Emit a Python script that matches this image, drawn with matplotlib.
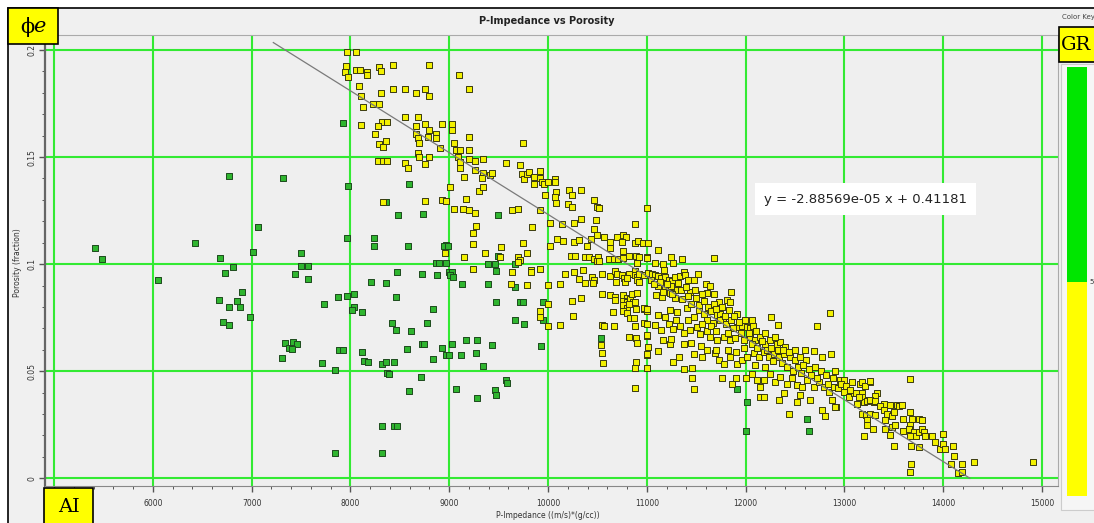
import numpy as np
import matplotlib.pyplot as plt
from matplotlib.patches import Rectangle
from matplotlib.ticker import MultipleLocator, FixedFormatter, FixedLocator

# crossplot samples: (P-impedance, effective porosity), split by the GR cutoff
high_gr_points = [
    (7922, 0.1657), (6768, 0.1410), (7315, 0.1400), (7979, 0.1366), (7068, 0.1174), (7962, 0.1123),
    (5412, 0.1076), (5483, 0.1025), (6427, 0.1101), (6680, 0.1028), (7014, 0.1059), (7500, 0.1053),
    (7500, 0.0992), (7568, 0.0992), (6815, 0.0986), (6734, 0.0959), (7439, 0.0956), (7568, 0.0930),
    (6053, 0.0927), (6899, 0.0871), (6673, 0.0833), (6849, 0.0826), (6768, 0.0801), (6883, 0.0801),
    (6707, 0.0732), (6768, 0.0716), (6987, 0.0751), (7736, 0.0813), (7874, 0.0846), (7962, 0.0852),
    (7335, 0.0631), (7416, 0.0637), (7456, 0.0626), (7382, 0.0609), (7412, 0.0606), (7305, 0.0564),
    (7709, 0.0539), (7844, 0.0505), (7888, 0.0601), (7928, 0.0598), (7844, 0.0118),
    (8593, 0.1375), (8357, 0.1290), (8485, 0.1230), (8732, 0.1234), (9497, 0.1230), (8242, 0.1123),
    (8242, 0.1083), (8586, 0.1083), (8968, 0.1090), (8951, 0.1083), (8991, 0.1083), (8866, 0.1006),
    (8900, 0.1006), (8968, 0.1006), (9393, 0.1000), (9460, 0.1000), (9666, 0.1000), (9494, 0.1037),
    (8472, 0.0963), (8721, 0.0956), (8873, 0.0947), (9000, 0.0963), (9030, 0.0963), (9010, 0.0947),
    (9035, 0.0938), (8205, 0.0917), (8364, 0.0911), (9126, 0.0908), (9393, 0.0908), (9477, 0.0966),
    (9666, 0.0891), (8036, 0.0861), (8458, 0.0846), (8033, 0.0801), (8016, 0.0788), (8117, 0.0777),
    (8833, 0.0791), (9474, 0.0822), (9717, 0.0822), (9744, 0.0822), (9946, 0.0822), (8418, 0.0724),
    (8458, 0.0693), (8617, 0.0690), (8772, 0.0724), (9666, 0.0737), (9754, 0.0721), (9946, 0.0737),
    (8117, 0.0589), (8141, 0.0550), (8175, 0.0541), (8320, 0.0534), (8364, 0.0544), (8445, 0.0544),
    (8573, 0.0604), (8721, 0.0626), (8745, 0.0626), (8839, 0.0556), (8924, 0.0607), (8968, 0.0578),
    (9001, 0.0578), (9025, 0.0626), (9119, 0.0575), (9167, 0.0645), (9285, 0.0645), (9274, 0.0583),
    (9433, 0.0623), (9339, 0.0525), (9932, 0.0620), (8374, 0.0494), (8391, 0.0485), (8718, 0.0475),
    (8590, 0.0408), (9072, 0.0417), (9281, 0.0377), (9467, 0.0414), (9474, 0.0388), (9575, 0.0461),
    (9588, 0.0444), (8323, 0.0244), (8441, 0.0244), (8468, 0.0244), (8323, 0.0118), (10536, 0.0653),
    (10999, 0.0515), (11913, 0.0417), (12014, 0.0358), (12625, 0.0276), (12000, 0.0222), (12640, 0.0222),
]

low_gr_points = [
    (7963, 0.1989), (8057, 0.1989), (7956, 0.1924), (7949, 0.1895), (7973, 0.1875),
    (8057, 0.1905), (8098, 0.1906), (8166, 0.1895), (8166, 0.1884), (8287, 0.1922), (8311, 0.1900),
    (8430, 0.1928), (8795, 0.1928), (9099, 0.1884), (8085, 0.1833), (8105, 0.1785), (8311, 0.1797),
    (8430, 0.1819), (8548, 0.1819), (8659, 0.1797), (8758, 0.1819), (8795, 0.1785), (9201, 0.1819),
    (8227, 0.1750), (8287, 0.1747), (8132, 0.1735), (8548, 0.1689), (8680, 0.1689),
    (8321, 0.1666), (8375, 0.1666), (8277, 0.1647), (8105, 0.1650),
    (8659, 0.1646), (8758, 0.1655), (8795, 0.1627), (8930, 0.1655), (9031, 0.1655), (9031, 0.1627),
    (8247, 0.1607), (8659, 0.1607), (8680, 0.1588), (8690, 0.1564), (8785, 0.1593), (8862, 0.1607),
    (8869, 0.1588), (8365, 0.1575), (8287, 0.1563), (8328, 0.1549), (8903, 0.1544), (9045, 0.1564),
    (9201, 0.1594), (9745, 0.1566), (9072, 0.1532), (9113, 0.1532), (9201, 0.1532), (9086, 0.1500),
    (9113, 0.1479), (8683, 0.1518), (8690, 0.1502), (8795, 0.1502),
    (8281, 0.1483), (8328, 0.1483), (8375, 0.1483), (8555, 0.1474), (8582, 0.1450), (8758, 0.1466),
    (9201, 0.1491), (9258, 0.1480), (9343, 0.1490), (9113, 0.1449), (9258, 0.1441), (9147, 0.1405),
    (9343, 0.1424), (9336, 0.1404), (9417, 0.1416), (9431, 0.1426), (9579, 0.1474),
    (9718, 0.1463), (9732, 0.1422), (9759, 0.1397), (9789, 0.1421), (9803, 0.1432),
    (9918, 0.1436), (9860, 0.1408), (9918, 0.1400), (9942, 0.1385), (9959, 0.1372), (9860, 0.1374),
    (10005, 0.1385), (10069, 0.1397), (10069, 0.1383),
    (9011, 0.1360), (9302, 0.1343), (9343, 0.1362), (9167, 0.1305), (8754, 0.1293), (8328, 0.1290),
    (8930, 0.1298), (8964, 0.1293), (9965, 0.1323), (10080, 0.1338), (10069, 0.1312), (10080, 0.1284),
    (10215, 0.1346), (10330, 0.1347), (10239, 0.1323), (10202, 0.1282), (10246, 0.1268),
    (10469, 0.1300), (10493, 0.1265), (10513, 0.1262),
    (9045, 0.1259), (9140, 0.1259), (9201, 0.1252), (9262, 0.1240), (9637, 0.1255), (9701, 0.1259),
    (9918, 0.1251), (11000, 0.1262),
    (9268, 0.1179), (9241, 0.1145), (9241, 0.1095), (9840, 0.1173), (10019, 0.1193), (10137, 0.1188),
    (10263, 0.1193), (10330, 0.1209), (10489, 0.1207), (10469, 0.1166), (10493, 0.1138), (10881, 0.1188),
    (9522, 0.1079), (9742, 0.1098), (10019, 0.1085), (10087, 0.1118), (10148, 0.1110), (10263, 0.1104),
    (10310, 0.1112), (10432, 0.1118), (10398, 0.1087), (10570, 0.1126), (10628, 0.1104), (10702, 0.1126),
    (10763, 0.1135), (10790, 0.1126), (10746, 0.1104), (10881, 0.1099), (10908, 0.1110), (10959, 0.1099),
    (10628, 0.1077),
    (8954, 0.1053), (9147, 0.1034), (9363, 0.1053), (9519, 0.1032), (9694, 0.1035), (9715, 0.1020),
    (9694, 0.1010), (9792, 0.1051), (10232, 0.1037), (10269, 0.1037), (10378, 0.1032), (10418, 0.1034),
    (10466, 0.1026), (10510, 0.1034), (10493, 0.1013), (10520, 0.1016), (10621, 0.1023), (10669, 0.1026),
    (10706, 0.1026), (10756, 0.1060), (10756, 0.1031), (10824, 0.1037), (10892, 0.1037), (10919, 0.1035),
    (10898, 0.1006), (10905, 0.1003), (11000, 0.1032),
    (9238, 0.0978), (9637, 0.0965), (9833, 0.0974), (9833, 0.0963), (9918, 0.0979), (10168, 0.0954),
    (10266, 0.0965), (10310, 0.0929), (10357, 0.0971), (10374, 0.0910), (10449, 0.0940), (10466, 0.0928),
    (10452, 0.0910), (10550, 0.0956), (10628, 0.0943), (10682, 0.0970), (10699, 0.0954), (10692, 0.0917),
    (10746, 0.0951), (10766, 0.0935), (10783, 0.0915), (10817, 0.0954), (10803, 0.0935), (10878, 0.0970),
    (10878, 0.0951), (10898, 0.0939), (10905, 0.0928), (10919, 0.0956), (10925, 0.0917), (10973, 0.0948),
    (9623, 0.0907), (9792, 0.0904), (10005, 0.0903), (10117, 0.0907), (10239, 0.0829), (10330, 0.0840),
    (10550, 0.0861), (10628, 0.0856), (10682, 0.0845), (10682, 0.0834), (10763, 0.0857), (10797, 0.0842),
    (10763, 0.0829), (10803, 0.0821), (10830, 0.0839), (10851, 0.0861), (10898, 0.0864), (10864, 0.0823),
    (10756, 0.0808), (10797, 0.0796), (10824, 0.0812), (10892, 0.0790), (10756, 0.0782), (10803, 0.0773),
    (10878, 0.0823), (10973, 0.0792), (11000, 0.0782), (10662, 0.0776),
    (10005, 0.0815), (9918, 0.0780), (9918, 0.0753), (10005, 0.0709), (10117, 0.0717), (10252, 0.0757),
    (10547, 0.0717), (10567, 0.0709), (10669, 0.0712), (10830, 0.0748), (10871, 0.0748), (10881, 0.0709),
    (10973, 0.0726), (11000, 0.0720), (10824, 0.0658), (10892, 0.0653), (10898, 0.0633), (11000, 0.0664),
    (10540, 0.0624), (10547, 0.0585), (10560, 0.0539), (10892, 0.0545), (10878, 0.0514), (11000, 0.0514),
    (11000, 0.0578), (10878, 0.0422),
    (10959, 0.1100), (11017, 0.1097), (11111, 0.1067), (11000, 0.1030), (11247, 0.1034), (11355, 0.1022),
    (11676, 0.1030), (11084, 0.1003), (11169, 0.1000), (11270, 0.1003), (11176, 0.0972),
    (11017, 0.0959), (11051, 0.0953), (11084, 0.0947), (11118, 0.0944), (11142, 0.0933), (11186, 0.0938),
    (11220, 0.0928), (11253, 0.0921), (11287, 0.0938), (11338, 0.0944), (11372, 0.0964), (11389, 0.0949),
    (11422, 0.0925), (11473, 0.0925), (11514, 0.0956), (11118, 0.0897), (11186, 0.0891), (11243, 0.0897),
    (11304, 0.0878), (11095, 0.0855), (11152, 0.0847), (11236, 0.0866), (11287, 0.0840),
    (11355, 0.0835), (11439, 0.0871), (11490, 0.0878), (11595, 0.0907), (11642, 0.0900), (11682, 0.0860),
    (11608, 0.0863), (11851, 0.0869), (11726, 0.0824), (11811, 0.0832), (11845, 0.0821),
    (10973, 0.0793), (11007, 0.0790), (11118, 0.0762), (11186, 0.0754), (11236, 0.0785), (11304, 0.0777),
    (11405, 0.0793), (11473, 0.0751), (11524, 0.0785), (11574, 0.0769), (11608, 0.0738), (11669, 0.0723),
    (11709, 0.0762), (11743, 0.0769), (11770, 0.0744), (11828, 0.0785), (11912, 0.0769),
    (11912, 0.0707), (11963, 0.0710), (12013, 0.0707), (12047, 0.0704), (12064, 0.0741),
    (12257, 0.0752), (12851, 0.0774),
    (11000, 0.0667), (11084, 0.0715), (11142, 0.0692), (11220, 0.0720), (11270, 0.0695),
    (11338, 0.0713), (11372, 0.0679), (11439, 0.0692), (11507, 0.0707), (11540, 0.0673), (11608, 0.0688),
    (11642, 0.0660), (11709, 0.0645), (11777, 0.0660), (11838, 0.0645), (11895, 0.0657),
    (11980, 0.0645), (12047, 0.0660), (12098, 0.0645), (12149, 0.0660), (12199, 0.0629), (12250, 0.0645),
    (12317, 0.0629), (12351, 0.0637), (12402, 0.0614), (12324, 0.0715), (12723, 0.0712),
    (11000, 0.0579), (11017, 0.0614), (11118, 0.0595), (11162, 0.0645), (11236, 0.0629), (11264, 0.0543),
    (11321, 0.0567), (11378, 0.0629), (11372, 0.0512), (11456, 0.0517), (11480, 0.0579), (11557, 0.0567),
    (11608, 0.0598), (11693, 0.0586), (11726, 0.0554), (11777, 0.0536), (11845, 0.0567), (11912, 0.0536),
    (11963, 0.0551), (12013, 0.0567), (12081, 0.0586), (12132, 0.0567), (12182, 0.0590), (12233, 0.0567),
    (12284, 0.0582), (12334, 0.0567), (12392, 0.0579), (12453, 0.0567), (12503, 0.0551), (12554, 0.0567),
    (12605, 0.0598), (12689, 0.0595), (12614, 0.0551), (12774, 0.0567), (12865, 0.0582),
    (11456, 0.0469), (11473, 0.0419), (11760, 0.0469), (11861, 0.0438), (11905, 0.0469), (12000, 0.0469),
    (12064, 0.0489), (12115, 0.0458), (12149, 0.0427), (12189, 0.0458), (12250, 0.0489), (12300, 0.0450),
    (12351, 0.0473), (12419, 0.0442), (12469, 0.0466), (12520, 0.0434),
    (12149, 0.0380), (12182, 0.0380), (12334, 0.0364), (12392, 0.0396), (12436, 0.0302), (12520, 0.0357),
    (12571, 0.0427), (12621, 0.0458), (12689, 0.0427), (12740, 0.0450), (12790, 0.0427), (12841, 0.0403),
    (12892, 0.0427), (12953, 0.0458), (13000, 0.0461), (12554, 0.0388), (12655, 0.0364), (12774, 0.0318),
    (12875, 0.0364), (12919, 0.0333), (13000, 0.0403), (13044, 0.0380), (13094, 0.0396), (13162, 0.0442),
    (13263, 0.0450), (13128, 0.0349), (13196, 0.0367), (13297, 0.0357), (13331, 0.0396), (13398, 0.0349),
    (13466, 0.0341), (13534, 0.0341), (12807, 0.0290), (12909, 0.0333),
    (13178, 0.0450), (13212, 0.0430), (13263, 0.0453), (13313, 0.0385), (13667, 0.0463),
    (13178, 0.0396), (13178, 0.0380), (13195, 0.0357), (13229, 0.0360), (13263, 0.0364), (13313, 0.0360),
    (13178, 0.0302), (13222, 0.0294), (13263, 0.0302), (13313, 0.0294), (13229, 0.0271), (13229, 0.0248),
    (13290, 0.0232), (13202, 0.0199), (13364, 0.0336), (13397, 0.0321), (13431, 0.0302), (13482, 0.0290),
    (13499, 0.0310), (13549, 0.0336), (13583, 0.0343), (13414, 0.0271), (13414, 0.0232), (13482, 0.0240),
    (13516, 0.0248), (13593, 0.0279), (13667, 0.0310), (13684, 0.0279), (13667, 0.0248), (13751, 0.0279),
    (13785, 0.0271), (13593, 0.0221), (13650, 0.0232), (13700, 0.0216), (13727, 0.0196), (13751, 0.0216),
    (13785, 0.0232), (13801, 0.0216), (13818, 0.0196), (13886, 0.0199), (13919, 0.0170),
    (13458, 0.0201), (13505, 0.0149), (13667, 0.0196), (13673, 0.0149), (13751, 0.0146),
    (13963, 0.0136), (13997, 0.0162), (14020, 0.0139), (13993, 0.0206), (14104, 0.0153),
    (14111, 0.0106), (14310, 0.0076), (14195, 0.0069), (14084, 0.0069),
    (13673, 0.0069), (13667, 0.0029), (14152, 0.0023), (14195, 0.0029), (14912, 0.0076),
    # densest part of the trend, 11000-13200
    (11040, 0.0925), (11070, 0.0905), (11130, 0.0915), (11160, 0.0870), (11200, 0.0905), (11260, 0.0860),
    (11320, 0.0910), (11350, 0.0880), (11400, 0.0895), (11420, 0.0850), (11450, 0.0815), (11500, 0.0840),
    (11530, 0.0810), (11560, 0.0860), (11580, 0.0830), (11620, 0.0800), (11650, 0.0780), (11680, 0.0815),
    (11700, 0.0790), (11740, 0.0740), (11760, 0.0800), (11790, 0.0760), (11800, 0.0720), (11850, 0.0740),
    (11870, 0.0700), (11880, 0.0760), (11930, 0.0730), (11950, 0.0680), (11990, 0.0740), (12030, 0.0680),
    (12060, 0.0625), (12080, 0.0710), (12110, 0.0690), (12120, 0.0610), (12170, 0.0640), (12200, 0.0680),
    (12220, 0.0600), (12260, 0.0610), (12280, 0.0550), (12300, 0.0660), (12330, 0.0600), (12370, 0.0540),
    (12380, 0.0600), (12420, 0.0520), (12440, 0.0590), (12480, 0.0500), (12500, 0.0600), (12530, 0.0520),
    (12560, 0.0490), (12580, 0.0530), (12640, 0.0510), (12660, 0.0480), (12700, 0.0520), (12720, 0.0470),
    (12760, 0.0500), (12810, 0.0480), (12830, 0.0440), (12880, 0.0470), (12900, 0.0500), (12940, 0.0420),
    (12970, 0.0440), (13020, 0.0430), (13060, 0.0410), (13080, 0.0450), (13120, 0.0400), (13150, 0.0380),
    (11300, 0.0740), (11420, 0.0740), (11560, 0.0720), (11650, 0.0710), (11250, 0.0650), (11450, 0.0630),
    (11550, 0.0620), (11700, 0.0600), (11820, 0.0600), (11900, 0.0590), (11700, 0.0690), (11820, 0.0680),
    (11980, 0.0610), (12100, 0.0530), (12200, 0.0520),
]

# linear fit shown on the plot
slope = -2.88569e-05
intercept = 0.41181
fit_ai = [7220, 14270]

x_ticks = [5000, 6000, 7000, 8000, 9000, 10000, 11000, 12000, 13000, 14000, 15000]
x_tick_labels = ['', '6000', '7000', '8000', '9000', '10000', '11000', '12000', '13000', '14000', '15000']
y_ticks = [0, 0.05, 0.1, 0.15, 0.2]
y_tick_labels = ['0', '0.05', '0.1', '0.15', '0.2']

W, H = 1094, 523
fig = plt.figure(figsize=(W / 100, H / 100), dpi=100)
fig.patch.set_facecolor('white')


def fx(x):
    return x / W


def fy(y):
    return 1 - y / H


def fig_rect(x0, y0, x1, y1, **kw):
    r = Rectangle((fx(x0), fy(y1)), fx(x1) - fx(x0), fy(y0) - fy(y1),
                  transform=fig.transFigure, **kw)
    fig.patches.append(r)
    return r


# outer panel, kept behind the axes
fig_rect(8, 8, 1200, 600, facecolor='#f0f0f0', edgecolor='black', lw=1.2, zorder=-5)

ax = fig.add_axes([fx(45), fy(486), fx(1058) - fx(45), fy(35) - fy(486)])
ax.set_zorder(1)
ax.set_facecolor('#efefef')
ax.set_xlim(4909, 15162)
ax.set_ylim(-0.0036, 0.207)

ax.xaxis.set_major_locator(FixedLocator(x_ticks))
ax.xaxis.set_major_formatter(FixedFormatter(x_tick_labels))
ax.xaxis.set_minor_locator(MultipleLocator(200))
ax.yaxis.set_major_locator(FixedLocator(y_ticks))
ax.yaxis.set_major_formatter(FixedFormatter(y_tick_labels))
ax.yaxis.set_minor_locator(MultipleLocator(0.01))
ax.tick_params(which='both', direction='out', color='#555555', labelsize=5.5, labelcolor='#333333')
ax.tick_params(which='major', length=4, width=1)
ax.tick_params(which='minor', length=2, width=0.7)
ax.tick_params(axis='y', labelrotation=90, pad=2)
ax.tick_params(axis='x', pad=5)
for lbl in ax.get_yticklabels():
    lbl.set_va('center')
ax.grid(True, which='major', color='#33ea33', lw=1.5)
ax.set_axisbelow(True)

ax.spines['left'].set_color('#666666')
ax.spines['left'].set_linewidth(1.6)
ax.spines['bottom'].set_color('#888888')
ax.spines['top'].set_color('#aaaaaa')
ax.spines['right'].set_color('#aaaaaa')

hi = np.array(high_gr_points)
lo = np.array(low_gr_points)
ax.scatter(hi[:, 0], hi[:, 1], marker='s', s=13, facecolor='#2fb52f', edgecolor='#1d4a1d',
           linewidths=0.7, zorder=4)
ax.scatter(lo[:, 0], lo[:, 1], marker='s', s=13, facecolor='#f2f000', edgecolor='#3a3a10',
           linewidths=0.7, zorder=4)

fit_x = np.array(fit_ai)
ax.plot(fit_x, slope * fit_x + intercept, color='#7a7a7a', lw=0.9, zorder=5)

ax.text(0.810, 0.636, 'y = -2.88569e-05 x + 0.41181', transform=ax.transAxes,
        ha='center', va='center', fontsize=9.5, color='#222222', zorder=6,
        bbox=dict(boxstyle='square,pad=0.7', facecolor='white', edgecolor='none'))

fig.text(fx(547), fy(21), 'P-Impedance vs Porosity', ha='center', va='center',
         fontsize=7, fontweight='bold', color='#222222')
fig.text(fx(548), fy(515), 'P-Impedance ((m/s)*(g/cc))', ha='center', va='center',
         fontsize=5.5, color='#333333')
fig.text(fx(18), fy(263), 'Porosity (fraction)', ha='center', va='center', rotation=90,
         fontsize=5.5, color='#333333')

# colour key
fig.text(fx(1062), fy(17), 'Color Key', ha='left', va='center', fontsize=5, color='#444444')
fig_rect(1061, 64, 1110, 510, facecolor='#f6f6f6', edgecolor='#cccccc', lw=0.8, zorder=1)
fig_rect(1067, 67, 1087, 282, facecolor='#00e600', edgecolor='none', zorder=2)
fig_rect(1067, 282, 1087, 496, facecolor='#ffff00', edgecolor='none', zorder=2)
fig.text(fx(1089), fy(282), '5', ha='left', va='center', fontsize=5, color='#333333')

# annotation boxes
box_style = dict(facecolor='#ffff00', edgecolor='black', lw=1.2, zorder=10)
fig_rect(8, 8, 58, 44, **box_style)
fig.text(fx(27), fy(27), 'ϕ', ha='center', va='center', fontsize=15,
         family='DejaVu Serif', zorder=11)
fig.text(fx(39), fy(27), 'e', ha='center', va='center', fontsize=15, style='italic',
         family='DejaVu Serif', zorder=11)

fig_rect(1059, 27, 1110, 62, **box_style)
fig.text(fx(1076), fy(45), 'GR', ha='center', va='center', fontsize=14,
         family='DejaVu Serif', zorder=11)

fig_rect(44, 488, 93, 540, **box_style)
fig.text(fx(69), fy(507), 'AI', ha='center', va='center', fontsize=14,
         family='DejaVu Serif', zorder=11)

fig.savefig('out.png', dpi=100)
